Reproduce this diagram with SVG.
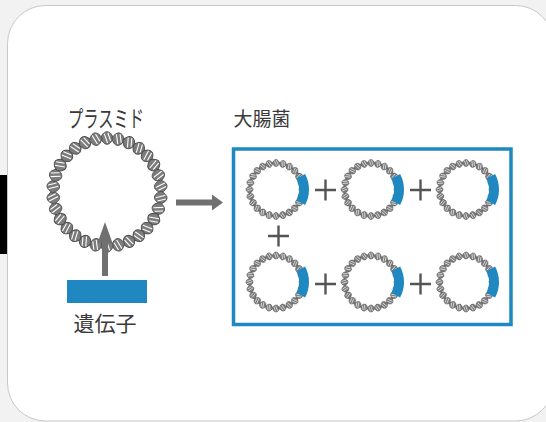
<svg xmlns="http://www.w3.org/2000/svg" xmlns:xlink="http://www.w3.org/1999/xlink" width="546" height="422" viewBox="0 0 546 422">
  <style>
    .label { font-family: "Noto Sans CJK JP", "Noto Sans", sans-serif; fill: #3a3a3a; }
    .plus { stroke: #555; stroke-width: 2.4; fill: none; }
    .arrow { fill: #707070; }
    .blue { fill: #1f88c0; }
  </style>
  <defs>
    <!-- one turn of the double helix, tangent along x -->
    <g id="bead">
      <path d="M-6.4,0 C-3,-8.4 3,-8.4 6.4,0 C3,8.4 -3,8.4 -6.4,0Z" fill="#7c7c7c" stroke="#4a4a4a" stroke-width="0.9"/>
      <path d="M-2.8,-4.4 L0.6,5 M0.8,-5.2 L3.6,2.8" stroke="#fff" stroke-width="1.1" fill="none"/>
    </g>
    <!-- small plasmid carrying the inserted gene -->
    <g id="mini">
      <use href="#bead" transform="rotate(0) translate(0,-26.5) scale(0.56)"/>
      <use href="#bead" transform="rotate(15) translate(0,-26.5) scale(0.56)"/>
      <use href="#bead" transform="rotate(30) translate(0,-26.5) scale(0.56)"/>
      <use href="#bead" transform="rotate(45) translate(0,-26.5) scale(0.56)"/>
      <use href="#bead" transform="rotate(60) translate(0,-26.5) scale(0.56)"/>
      <use href="#bead" transform="rotate(75) translate(0,-26.5) scale(0.56)"/>
      <use href="#bead" transform="rotate(90) translate(0,-26.5) scale(0.56)"/>
      <use href="#bead" transform="rotate(105) translate(0,-26.5) scale(0.56)"/>
      <use href="#bead" transform="rotate(120) translate(0,-26.5) scale(0.56)"/>
      <use href="#bead" transform="rotate(135) translate(0,-26.5) scale(0.56)"/>
      <use href="#bead" transform="rotate(150) translate(0,-26.5) scale(0.56)"/>
      <use href="#bead" transform="rotate(165) translate(0,-26.5) scale(0.56)"/>
      <use href="#bead" transform="rotate(180) translate(0,-26.5) scale(0.56)"/>
      <use href="#bead" transform="rotate(195) translate(0,-26.5) scale(0.56)"/>
      <use href="#bead" transform="rotate(210) translate(0,-26.5) scale(0.56)"/>
      <use href="#bead" transform="rotate(225) translate(0,-26.5) scale(0.56)"/>
      <use href="#bead" transform="rotate(240) translate(0,-26.5) scale(0.56)"/>
      <use href="#bead" transform="rotate(255) translate(0,-26.5) scale(0.56)"/>
      <use href="#bead" transform="rotate(270) translate(0,-26.5) scale(0.56)"/>
      <use href="#bead" transform="rotate(285) translate(0,-26.5) scale(0.56)"/>
      <use href="#bead" transform="rotate(300) translate(0,-26.5) scale(0.56)"/>
      <use href="#bead" transform="rotate(315) translate(0,-26.5) scale(0.56)"/>
      <use href="#bead" transform="rotate(330) translate(0,-26.5) scale(0.56)"/>
      <use href="#bead" transform="rotate(345) translate(0,-26.5) scale(0.56)"/>
      <path d="M24.7,-13.2 A28,28 0 0 1 24.7,13.2" stroke="#1f88c0" stroke-width="10" fill="none"/>
    </g>
  </defs>

  <!-- page -->
  <rect x="0" y="0" width="546" height="422" fill="#f2f2f2"/>
  <rect x="0" y="175" width="7" height="79" fill="#000"/>
  <rect x="7.5" y="5.5" width="546" height="415.5" rx="38" ry="38" fill="#fff" stroke="#c8c8c8" stroke-width="1"/>

  <!-- plasmid -->
  <g id="plasmid">
    <text class="label" x="106" y="127" font-size="23" text-anchor="middle" textLength="76" lengthAdjust="spacingAndGlyphs">プラスミド</text>
    <g transform="translate(107,192)">
      <use href="#bead" transform="rotate(0) translate(0,-54)"/>
      <use href="#bead" transform="rotate(12) translate(0,-54)"/>
      <use href="#bead" transform="rotate(24) translate(0,-54)"/>
      <use href="#bead" transform="rotate(36) translate(0,-54)"/>
      <use href="#bead" transform="rotate(48) translate(0,-54)"/>
      <use href="#bead" transform="rotate(60) translate(0,-54)"/>
      <use href="#bead" transform="rotate(72) translate(0,-54)"/>
      <use href="#bead" transform="rotate(84) translate(0,-54)"/>
      <use href="#bead" transform="rotate(96) translate(0,-54)"/>
      <use href="#bead" transform="rotate(108) translate(0,-54)"/>
      <use href="#bead" transform="rotate(120) translate(0,-54)"/>
      <use href="#bead" transform="rotate(132) translate(0,-54)"/>
      <use href="#bead" transform="rotate(144) translate(0,-54)"/>
      <use href="#bead" transform="rotate(156) translate(0,-54)"/>
      <use href="#bead" transform="rotate(168) translate(0,-54)"/>
      <use href="#bead" transform="rotate(180) translate(0,-54)"/>
      <use href="#bead" transform="rotate(192) translate(0,-54)"/>
      <use href="#bead" transform="rotate(204) translate(0,-54)"/>
      <use href="#bead" transform="rotate(216) translate(0,-54)"/>
      <use href="#bead" transform="rotate(228) translate(0,-54)"/>
      <use href="#bead" transform="rotate(240) translate(0,-54)"/>
      <use href="#bead" transform="rotate(252) translate(0,-54)"/>
      <use href="#bead" transform="rotate(264) translate(0,-54)"/>
      <use href="#bead" transform="rotate(276) translate(0,-54)"/>
      <use href="#bead" transform="rotate(288) translate(0,-54)"/>
      <use href="#bead" transform="rotate(300) translate(0,-54)"/>
      <use href="#bead" transform="rotate(312) translate(0,-54)"/>
      <use href="#bead" transform="rotate(324) translate(0,-54)"/>
      <use href="#bead" transform="rotate(336) translate(0,-54)"/>
      <use href="#bead" transform="rotate(348) translate(0,-54)"/>
    </g>
  </g>

  <!-- gene -->
  <g id="gene">
    <rect class="blue" x="67" y="280" width="80" height="23"/>
    <text class="label" x="105" y="331" font-size="21" text-anchor="middle">遺伝子</text>
  </g>

  <!-- E. coli box -->
  <g id="ecoli">
    <text class="label" x="262" y="126" font-size="19" text-anchor="middle">大腸菌</text>
    <rect x="233.5" y="149" width="277.5" height="175.5" fill="none" stroke="#1f88c0" stroke-width="3.5"/>
  </g>
  <g id="ecoli-plasmid-1"><use href="#mini" transform="translate(276,189.5)"/></g>
  <g id="ecoli-plasmid-2"><use href="#mini" transform="translate(371,189.5)"/></g>
  <g id="ecoli-plasmid-3"><use href="#mini" transform="translate(466,189.5)"/></g>
  <g id="ecoli-plasmid-4"><use href="#mini" transform="translate(276,282)"/></g>
  <g id="ecoli-plasmid-5"><use href="#mini" transform="translate(371,282)"/></g>
  <g id="ecoli-plasmid-6"><use href="#mini" transform="translate(466,282)"/></g>

  <!-- plus signs -->
  <g id="plus-signs" class="plus">
    <path d="M315,190 H336 M325.5,179.5 V200.5"/>
    <path d="M410,190 H431 M420.5,179.5 V200.5"/>
    <path d="M268,236 H289 M278.5,225.5 V246.5"/>
    <path d="M315,284 H336 M325.5,273.5 V294.5"/>
    <path d="M410,284 H431 M420.5,273.5 V294.5"/>
  </g>

  <!-- connectors -->
  <g id="connectors">
    <path class="arrow" d="M102,276 V243 H97.5 L105,222 L112.5,243 H108 V276Z"/>
    <path class="arrow" d="M176,199.5 H212 V194.5 L223,202.5 L212,210.5 V205.5 H176Z"/>
  </g>
</svg>
